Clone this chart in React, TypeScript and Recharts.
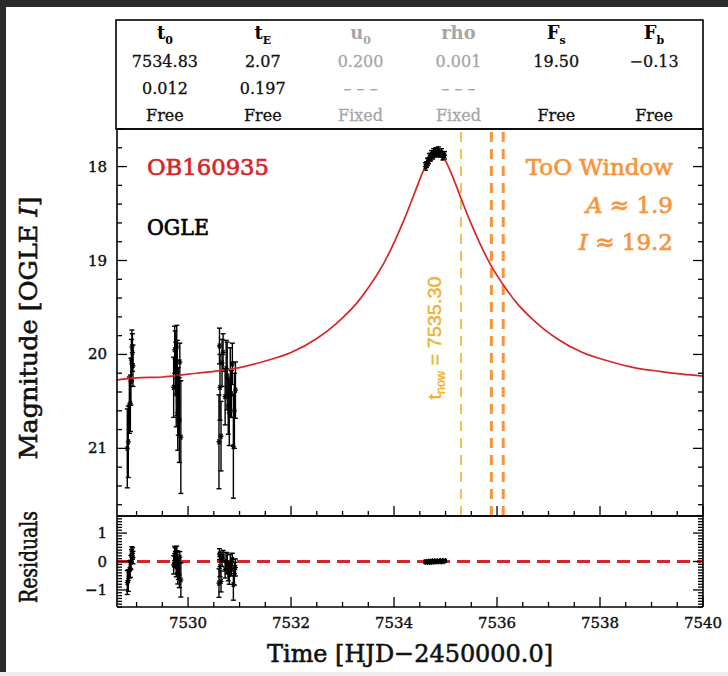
import React from 'react';
import { ComposedChart, Scatter, Line, XAxis, YAxis, ErrorBar, ReferenceLine } from 'recharts';

const W = 728;
const H = 676;
const SERIF = '"DejaVu Serif", serif';
const SANS = '"Liberation Sans", Arial, sans-serif';
const RED = '#d7262b';
const GOLD = '#f0b030';
const ORANGE = '#f7943c';
const GRAY = '#a6a6a6';

// OGLE photometry (HJD-2450000, I mag, error, residual = model - data)
const obsTime = [
  7528.82, 7528.84, 7528.86, 7528.88, 7528.89, 7528.90, 7528.91, 7528.92, 7528.93,
  7529.72, 7529.74, 7529.75, 7529.76, 7529.77, 7529.78, 7529.79, 7529.80, 7529.81, 7529.83, 7529.84, 7529.86,
  7530.60, 7530.61, 7530.62, 7530.64, 7530.66, 7530.68, 7530.72, 7530.74, 7530.76, 7530.78, 7530.80, 7530.82,
  7530.84, 7530.86, 7530.88, 7530.90, 7530.92,
  7534.61, 7534.63, 7534.65, 7534.67, 7534.69, 7534.71, 7534.73, 7534.75, 7534.77, 7534.79, 7534.81, 7534.83,
  7534.86, 7534.89, 7534.92, 7534.95, 7534.98,
];
const obsMag = [
  21.0, 20.93, 20.54, 20.52, 20.29, 20.06, 19.92, 19.98, 20.12,
  20.35, 19.95, 20.05, 20.15, 20.42, 19.92, 20.25, 20.62, 20.5, 20.7, 20.08, 20.88,
  20.93, 19.91, 20.35, 20.87, 20.09, 19.98, 20.45, 20.15, 20.23, 20.55, 20.62, 20.3,
  20.42, 20.1, 20.98, 20.6, 20.38,
  18.0, 17.98, 17.95, 17.94, 17.9, 17.91, 17.87, 17.89, 17.85, 17.87, 17.84, 17.86,
  17.83, 17.87, 17.85, 17.9, 17.88,
];
const obsErr = [
  0.42, 0.38, 0.3, 0.3, 0.25, 0.22, 0.18, 0.2, 0.22,
  0.32, 0.25, 0.3, 0.28, 0.35, 0.23, 0.4, 0.4, 0.36, 0.45, 0.2, 0.6,
  0.5, 0.19, 0.35, 0.37, 0.25, 0.2, 0.3, 0.3, 0.36, 0.3, 0.35, 0.37,
  0.25, 0.22, 0.55, 0.4, 0.3,
  0.04, 0.03, 0.04, 0.03, 0.04, 0.03, 0.04, 0.03, 0.04, 0.03, 0.04, 0.03,
  0.04, 0.03, 0.04, 0.03, 0.04,
];
const obsResid = [
  -0.74, -0.67, -0.28, -0.26, -0.03, 0.2, 0.34, 0.28, 0.14,
  -0.12, 0.28, 0.18, 0.08, -0.19, 0.31, -0.02, -0.39, -0.27, -0.47, 0.15, -0.65,
  -0.76, 0.26, -0.18, -0.7, 0.08, 0.19, -0.28, 0.02, -0.06, -0.38, -0.45, -0.13,
  -0.25, 0.07, -0.81, -0.43, -0.21,
  -0.01, -0.02, -0.01, -0.03, 0.01, -0.02, 0.01, -0.02, 0.02, -0.01, 0.01, -0.01,
  0.02, -0.01, 0.03, -0.01, 0.03,
];

// best-fit model curve
const modelTime = [
  7528.62, 7529.0, 7529.5, 7530.0, 7530.5, 7531.0, 7531.5, 7532.0, 7532.5, 7532.75, 7533.0, 7533.25,
  7533.5, 7533.8, 7534.0, 7534.2, 7534.4, 7534.55, 7534.7, 7534.83, 7534.96, 7535.11, 7535.26, 7535.46,
  7535.66, 7535.86, 7536.16, 7536.41, 7536.66, 7536.91, 7537.16, 7537.66, 7538.16, 7538.66, 7539.16,
  7539.6, 7540.0,
];
const modelMag = [
  20.27, 20.25, 20.24, 20.21, 20.18, 20.14, 20.07, 19.98, 19.83, 19.73, 19.61, 19.47,
  19.29, 19.03, 18.81, 18.56, 18.28, 18.07, 17.9, 17.85, 17.9, 18.07, 18.28, 18.56,
  18.81, 19.03, 19.29, 19.47, 19.61, 19.73, 19.83, 19.98, 20.07, 20.14, 20.18,
  20.21, 20.23,
];

const tNow = 7535.3;
const tooWindow = [7535.89, 7536.12];

const xMajor = [7530, 7532, 7534, 7536, 7538, 7540];
const magMajor = [18, 19, 20, 21];
const resMajor = [-1, 0, 1];

const tableHead = ['t|0', 't|E', 'u|0', 'rho', 'F|s', 'F|b'];
const tableValue = ['7534.83', '2.07', '0.200', '0.001', '19.50', '\u22120.13'];
const tableError = ['0.012', '0.197', '\u2013 \u2013 \u2013', '\u2013 \u2013 \u2013', '', ''];
const tableState = ['Free', 'Free', 'Fixed', 'Fixed', 'Free', 'Free'];
const tableFixed = [false, false, true, true, false, false];

const steps = (a: number, b: number, s: number) => {
  const out: number[] = [];
  for (let v = a; v <= b + 1e-9; v += s) out.push(+v.toFixed(2));
  return out;
};

const xTicks = steps(7529, 7540, 0.5);
const magTicks = steps(17.6, 21.6, 0.2);
const resTicks = steps(-1.6, 1.6, 0.1);

const obsData = obsTime.map((t, i) => ({ t, mag: obsMag[i], err: obsErr[i] }));
const resData = obsTime.map((t, i) => ({ t, r: obsResid[i], err: obsErr[i] }));
const modelData = modelTime.map((t, i) => ({ t, mag: modelMag[i] }));

type Side = 'bottom' | 'top' | 'left' | 'right';

const isMajor = (list: number[], v: number) => list.some((m) => Math.abs(m - v) < 1e-6);
const fmtNum = (v: number) => (v < 0 ? '\u2212' + Math.abs(v) : String(v));

// a thin outline of the same colour makes DejaVu look closer to the heavier plot font
const heavy = (c: string, w = 0.5) => ({ fill: c, stroke: c, strokeWidth: w });

function tickFor(side: Side, majors: number[], labels: boolean) {
  return (props: any) => {
    const { x, y, payload } = props;
    const v = Number(payload.value);
    const big = isMajor(majors, v);
    const len = big ? 10 : 5;
    const ln = { stroke: '#000', strokeWidth: 1.3 };
    const txt = { fontSize: 15, fontFamily: SERIF, ...heavy('#111', 0.4) };
    if (side === 'bottom') {
      return (
        <g>
          <line x1={x} y1={y} x2={x} y2={y - len} {...ln} />
          {labels && big && (
            <text x={x} y={y + 21} textAnchor="middle" {...txt}>
              {fmtNum(v)}
            </text>
          )}
        </g>
      );
    }
    if (side === 'top') {
      return <line x1={x} y1={y} x2={x} y2={y + len} {...ln} />;
    }
    if (side === 'left') {
      return (
        <g>
          <line x1={x} y1={y} x2={x + len} y2={y} {...ln} />
          {labels && big && (
            <text x={x - 10} y={y + 5} textAnchor="end" {...txt}>
              {fmtNum(v)}
            </text>
          )}
        </g>
      );
    }
    return <line x1={x} y1={y} x2={x - len} y2={y} {...ln} />;
  };
}

const Star = (p: any) => {
  const { cx, cy } = p;
  if (cx == null || cy == null) return <g />;
  const s = 2.5;
  return (
    <g stroke="#000" strokeWidth={1.3}>
      <line x1={cx - s} y1={cy} x2={cx + s} y2={cy} />
      <line x1={cx - s * 0.6} y1={cy - s} x2={cx + s * 0.6} y2={cy + s} />
      <line x1={cx - s * 0.6} y1={cy + s} x2={cx + s * 0.6} y2={cy - s} />
    </g>
  );
};

const frame = { stroke: '#000', strokeWidth: 1.6 };
const xDomain: [number, number] = [7528.62, 7540];

// axes are 1px thick so recharts still draws them; margins absorb that pixel
function Frame({ magDomain, yKey, yTicks, yMajor, reversed, xLabels }: any) {
  return [
    <XAxis
      key="xb"
      type="number"
      dataKey="t"
      domain={xDomain}
      allowDataOverflow
      ticks={xTicks}
      interval={0}
      height={1}
      tickSize={0}
      tickMargin={0}
      axisLine={frame}
      tick={tickFor('bottom', xMajor, xLabels)}
    />,
    <XAxis
      key="xt"
      xAxisId="top"
      orientation="top"
      type="number"
      domain={xDomain}
      allowDataOverflow
      ticks={xTicks}
      interval={0}
      height={1}
      tickSize={0}
      tickMargin={0}
      axisLine={frame}
      tick={tickFor('top', xMajor, false)}
    />,
    <YAxis
      key="yl"
      type="number"
      dataKey={yKey}
      domain={magDomain}
      reversed={reversed}
      allowDataOverflow
      ticks={yTicks}
      interval={0}
      width={1}
      tickSize={0}
      tickMargin={0}
      axisLine={frame}
      tick={tickFor('left', yMajor, true)}
    />,
    <YAxis
      key="yr"
      yAxisId="right"
      orientation="right"
      type="number"
      domain={magDomain}
      reversed={reversed}
      allowDataOverflow
      ticks={yTicks}
      interval={0}
      width={1}
      tickSize={0}
      tickMargin={0}
      axisLine={frame}
      tick={tickFor('right', yMajor, false)}
    />,
  ];
}

function HeadCell({ label, x, color }: { label: string; x: number; color: string }) {
  const [main, sub] = label.split('|');
  return (
    <text x={x} y={39} textAnchor="middle" fontFamily={SERIF} fontWeight="bold" fontSize={18} fill={color}>
      {main}
      {sub && (
        <tspan dy={5} fontSize={11}>
          {sub}
        </tspan>
      )}
    </text>
  );
}

export default function App() {
  const colX = tableHead.map((_, i) => 116 + (587 / 6) * (i + 0.5));
  return (
    <div style={{ position: 'absolute', left: 0, top: 0, width: W, height: H, background: '#fff', overflow: 'hidden' }}>
      <div style={{ position: 'absolute', left: 0, top: 0, width: W, height: 7, background: '#2b2b2b' }} />
      <div style={{ position: 'absolute', left: 0, top: 0, width: 6, height: H, background: '#2b2b2b' }} />
      <div style={{ position: 'absolute', left: 0, top: 672, width: W, height: 4, background: '#ececec' }} />

      <div style={{ position: 'absolute', left: 0, top: 0 }}>
        <ComposedChart width={W} height={520} margin={{ top: 128, right: 24, bottom: 3, left: 116 }}>
          {Frame({ magDomain: [17.6, 21.72], yKey: 'mag', yTicks: magTicks, yMajor: magMajor, reversed: true, xLabels: false })}
          <ReferenceLine x={tNow} stroke={GOLD} strokeWidth={1.6} strokeDasharray="10 7" />
          {tooWindow.map((t) => (
            <ReferenceLine key={t} x={t} stroke={ORANGE} strokeWidth={3} strokeDasharray="10 7" />
          ))}
          <Scatter data={obsData} dataKey="mag" shape={Star} isAnimationActive={false}>
            <ErrorBar dataKey="err" direction="y" width={2.5} strokeWidth={1.4} stroke="#000" />
          </Scatter>
          <Line
            data={modelData}
            dataKey="mag"
            type="monotone"
            stroke={RED}
            strokeWidth={1.7}
            dot={false}
            activeDot={false}
            isAnimationActive={false}
          />
        </ComposedChart>
      </div>

      <div style={{ position: 'absolute', left: 0, top: 500 }}>
        <ComposedChart width={W} height={176} margin={{ top: 15, right: 24, bottom: 68, left: 116 }}>
          {Frame({ magDomain: [-1.6, 1.6], yKey: 'r', yTicks: resTicks, yMajor: resMajor, reversed: false, xLabels: true })}
          <ReferenceLine y={0} stroke={RED} strokeWidth={3} strokeDasharray="13 7" />
          <Scatter data={resData} dataKey="r" shape={Star} isAnimationActive={false}>
            <ErrorBar dataKey="err" direction="y" width={2.5} strokeWidth={1.4} stroke="#000" />
          </Scatter>
        </ComposedChart>
      </div>

      <svg width={W} height={H} style={{ position: 'absolute', left: 0, top: 0, pointerEvents: 'none' }}>
        <rect x={116} y={20} width={587} height={109} fill="none" stroke="#000" strokeWidth={1.6} />
        {tableHead.map((h, i) => (
          <HeadCell key={h} label={h} x={colX[i]} color={tableFixed[i] ? GRAY : '#000'} />
        ))}
        {[tableValue, tableError, tableState].map((row, r) =>
          row.map((s, i) => (
            <text
              key={r + '-' + i}
              x={colX[i]}
              y={67 + r * 27}
              textAnchor="middle"
              fontFamily={SERIF}
              fontSize={16}
              {...heavy(tableFixed[i] ? GRAY : '#111', 0.3)}
            >
              {s}
            </text>
          ))
        )}

        <text x={147} y={175} fontFamily={SERIF} fontSize={23} {...heavy(RED, 0.7)} textLength={122} lengthAdjust="spacingAndGlyphs">
          OB160935
        </text>
        <text x={147} y={235} fontFamily={SERIF} fontSize={22} {...heavy('#000', 0.7)} textLength={62} lengthAdjust="spacingAndGlyphs">
          OGLE
        </text>
        <text x={673} y={175} textAnchor="end" fontFamily={SERIF} fontSize={23} {...heavy(ORANGE, 0.7)}>
          ToO Window
        </text>
        <text x={673} y={213} textAnchor="end" fontFamily={SERIF} fontSize={23} {...heavy(ORANGE, 0.7)}>
          <tspan fontStyle="italic">A</tspan> ≈ 1.9
        </text>
        <text x={673} y={250} textAnchor="end" fontFamily={SERIF} fontSize={23} {...heavy(ORANGE, 0.7)}>
          <tspan fontStyle="italic">I</tspan> ≈ 19.2
        </text>
        <text
          transform="rotate(-90)"
          x={-338}
          y={441}
          textAnchor="middle"
          fontFamily={SANS}
          fontSize={19}
          {...heavy(GOLD, 0.4)}
          textLength={123}
          lengthAdjust="spacingAndGlyphs"
        >
          t
          <tspan dy={4} fontSize={12}>
            now
          </tspan>
          <tspan dy={-4}> = 7535.30</tspan>
        </text>

        <text
          transform="rotate(-90)"
          x={-328}
          y={37}
          textAnchor="middle"
          fontFamily={SERIF}
          fontSize={24}
          {...heavy('#111', 0.6)}
          textLength={263}
          lengthAdjust="spacingAndGlyphs"
        >
          Magnitude [OGLE <tspan fontStyle="italic">I</tspan>]
        </text>
        <text
          transform="rotate(-90)"
          x={-557}
          y={37}
          textAnchor="middle"
          fontFamily={SERIF}
          fontSize={24}
          {...heavy('#111', 0.6)}
          textLength={92}
          lengthAdjust="spacingAndGlyphs"
        >
          Residuals
        </text>
        <text
          x={410}
          y={662}
          textAnchor="middle"
          fontFamily={SERIF}
          fontSize={25}
          {...heavy('#111', 0.6)}
          textLength={286}
          lengthAdjust="spacingAndGlyphs"
        >
          Time [HJD−2450000.0]
        </text>
      </svg>
    </div>
  );
}
